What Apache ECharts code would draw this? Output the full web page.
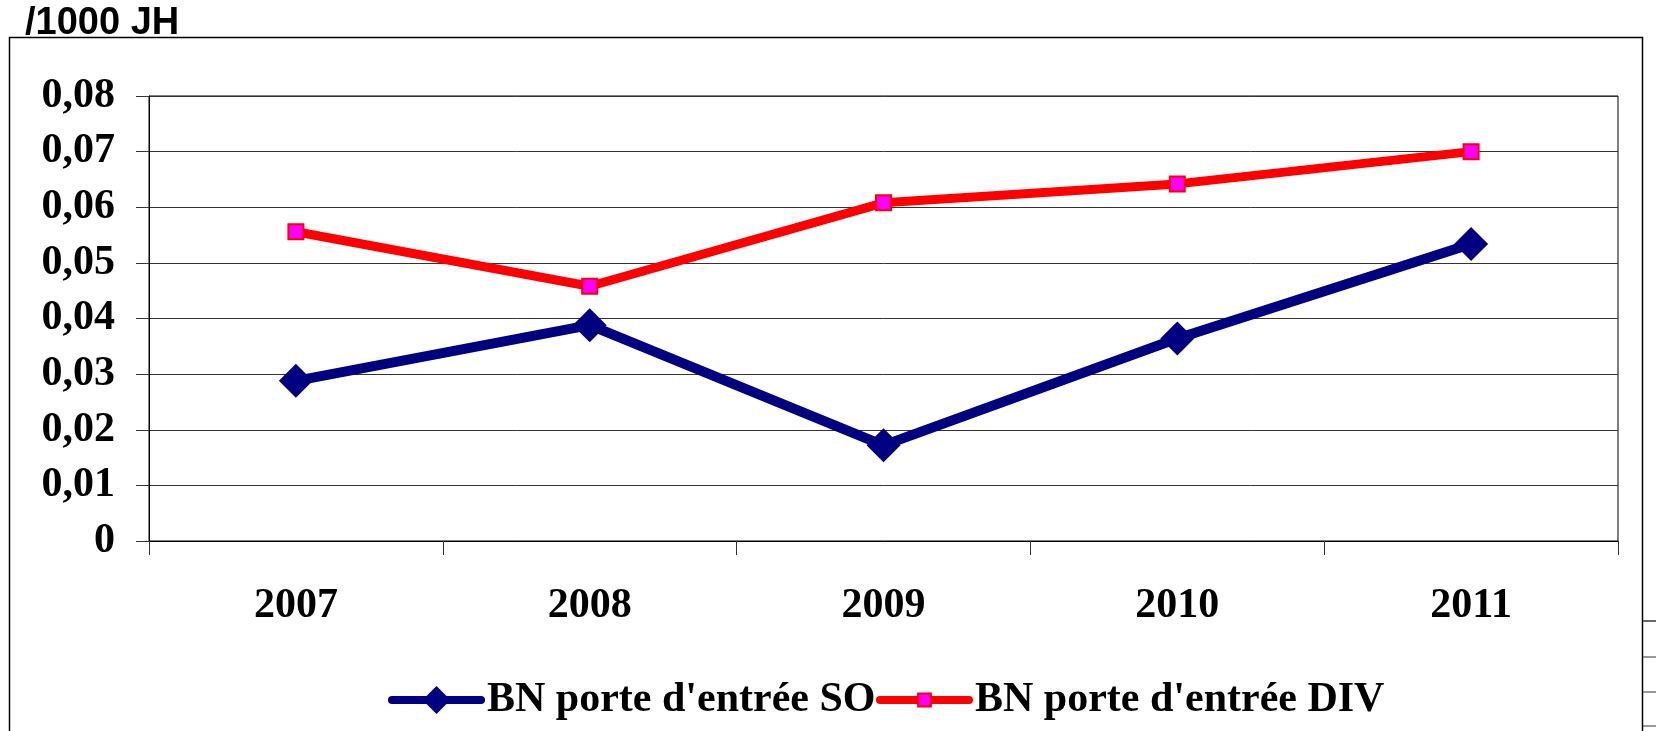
<!DOCTYPE html>
<html>
<head>
<meta charset="utf-8">
<script src="https://cdn.jsdelivr.net/npm/echarts@6/dist/echarts.min.js"></script>
<style>
  html, body { margin: 0; padding: 0; background: #fff; }
  #chart { width: 1656px; height: 731px; }
</style>
</head>
<body>
<div id="chart"></div>
<script>
// données
const years = ['2007', '2008', '2009', '2010', '2011']
const soValues = [0.0288, 0.0388, 0.0172, 0.0364, 0.0534]
const divValues = [0.0556, 0.0458, 0.0608, 0.0642, 0.0700]
const seriesNames = ["BN porte d'entrée SO", "BN porte d'entrée DIV"]
const unitLabel = '/1000 JH'

const serif = '"Liberation Serif", "Times New Roman", serif'

const legendText = {
  fontFamily: serif,
  fontWeight: 'bold',
  fontSize: 42,
  color: '#000',
  padding: [0, 0, 0, 1]
}

const chart = echarts.init(document.getElementById('chart'))

const option = {
  backgroundColor: '#fff',
  animation: false,
  graphic: [
    // cadre extérieur
    {
      type: 'rect',
      shape: { x: 9.5, y: 37.5, width: 1633, height: 720 },
      style: { fill: 'none', stroke: '#000', lineWidth: 1.5 },
      z: 0
    },
    // petits traits à droite (autre objet coupé)
    { type: 'line', shape: { x1: 1643, y1: 621, x2: 1656, y2: 621 }, style: { stroke: '#333', lineWidth: 1.5 } },
    { type: 'line', shape: { x1: 1643, y1: 657, x2: 1656, y2: 657 }, style: { stroke: '#333', lineWidth: 1 } },
    { type: 'line', shape: { x1: 1643, y1: 692, x2: 1656, y2: 692 }, style: { stroke: '#333', lineWidth: 1 } },
    { type: 'line', shape: { x1: 1643, y1: 726, x2: 1656, y2: 726 }, style: { stroke: '#333', lineWidth: 1 } },
    {
      type: 'text',
      left: 25,
      top: 5,
      style: {
        text: unitLabel,
        fill: '#000',
        font: 'bold 38px "Liberation Sans", Arial, sans-serif'
      },
      z: 10
    }
  ],
  grid: {
    left: 149,
    right: 38,
    top: 96,
    bottom: 190,
    show: true,
    borderColor: '#000',
    borderWidth: 1
  },
  // deux légendes pour avoir des tailles de symbole différentes
  legend: [
    {
      data: [seriesNames[0]],
      left: 383,
      top: 674,
      itemWidth: 89,
      itemHeight: 35,
      lineStyle: { width: 8, cap: 'round' },
      textStyle: legendText
    },
    {
      data: [seriesNames[1]],
      left: 871,
      top: 674,
      itemWidth: 89,
      itemHeight: 16,
      lineStyle: { width: 8, cap: 'round' },
      textStyle: legendText
    }
  ],
  xAxis: {
    type: 'category',
    data: years,
    boundaryGap: true,
    axisLine: { lineStyle: { color: '#000', width: 1 } },
    axisTick: { show: true, length: 14, inside: false, lineStyle: { color: '#333' } },
    axisLabel: {
      margin: 44,
      fontFamily: serif,
      fontWeight: 'bold',
      fontSize: 42,
      color: '#000'
    },
    splitLine: { show: false }
  },
  yAxis: {
    type: 'value',
    min: 0,
    max: 0.08,
    interval: 0.01,
    axisLine: { show: true, lineStyle: { color: '#000', width: 1 } },
    axisTick: { show: true, length: 13, lineStyle: { color: '#333' } },
    axisLabel: {
      margin: 34,
      fontFamily: serif,
      fontWeight: 'bold',
      fontSize: 42,
      color: '#000',
      formatter: v => v === 0 ? '0' : v.toFixed(2).replace('.', ',')
    },
    splitLine: { show: true, lineStyle: { color: '#333', width: 1 } }
  },
  series: [
    {
      name: seriesNames[0],
      type: 'line',
      data: soValues,
      symbol: 'diamond',
      symbolSize: 34,
      itemStyle: { color: '#000080' },
      lineStyle: { color: '#000080', width: 10 },
      z: 3
    },
    {
      name: seriesNames[1],
      type: 'line',
      data: divValues,
      symbol: 'rect',
      symbolSize: 15,
      itemStyle: { color: '#FF00FF', borderColor: '#FF0000', borderWidth: 2 },
      lineStyle: { color: '#FF0000', width: 9 },
      z: 4
    }
  ]
}

chart.setOption(option)
</script>
</body>
</html>
